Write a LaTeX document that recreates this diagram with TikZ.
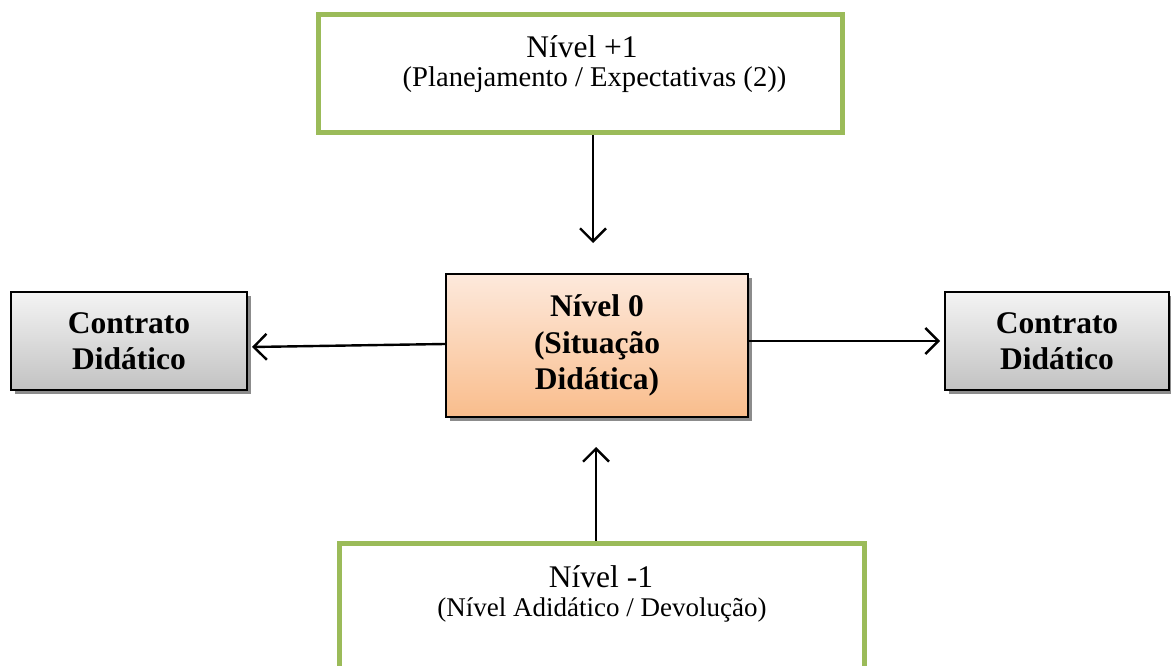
\documentclass[tikz,border=0pt]{standalone}
\usepackage{fontspec}
\setmainfont{Liberation Serif}
\usetikzlibrary{arrows.meta,shadows}
\definecolor{leafgreen}{HTML}{9BBB59}
\definecolor{peachtop}{HTML}{FDE9DC}
\definecolor{peachbot}{HTML}{F9BD8C}
\definecolor{greytop}{HTML}{F4F4F4}
\definecolor{greybot}{HTML}{C2C2C2}
\tikzset{
  levelbox/.style={draw=leafgreen, line width=5pt, fill=white, rectangle, inner sep=0pt},
  shadowbox/.style={draw=black, line width=2.2pt, rectangle, inner sep=0pt, align=center,
    font=\fontsize{31.5}{36.5}\selectfont\bfseries,
    drop shadow={shadow xshift=3.5pt, shadow yshift=-3.5pt, fill=black!45, opacity=1}},
  centrebox/.style={shadowbox, top color=peachtop, bottom color=peachbot},
  contractbox/.style={shadowbox, top color=greytop, bottom color=greybot},
  titletext/.style={font=\fontsize{31.5}{36}\selectfont, inner sep=0pt},
  subtext/.style={font=\fontsize{27}{31}\selectfont, inner sep=0pt},
  flow/.style={line width=2.4pt, -{Straight Barb[length=13pt,width=26pt,line width=2.4pt]}}
}
\begin{document}
\begin{tikzpicture}[x=1pt,y=-1pt]
  \clip (0,0) rectangle (1171,666);
  \fill[white] (0,0) rectangle (1171,666);

  % upper and lower level boxes
  \node[levelbox, minimum width=524pt, minimum height=118pt] (upper) at (580,74) {};
  \node[titletext] (upperTitle) at (582,47) {Nível +1};
  \node[subtext, font=\fontsize{28.6}{32}\selectfont] (upperSub) at (594.5,80)
    {(Planejamento / Expectativas (2))};

  \node[levelbox, minimum width=525pt, minimum height=200pt] (lower) at (601.5,643) {};
  \node[titletext] (lowerTitle) at (601,577) {Nível -1};
  \node[subtext] (lowerSub) at (602,610) {(Nível Adidático / Devolução)};

  % central situation and the two contract boxes
  \node[centrebox, minimum width=302pt, minimum height=143pt] (centre) at (597,345.5)
    {Nível 0\\(Situação\\Didática)};
  \node[contractbox, minimum width=236pt, minimum height=98pt] (leftC) at (129,341)
    {Contrato\\Didático};
  \node[contractbox, minimum width=224pt, minimum height=98pt] (rightC) at (1057,341)
    {Contrato\\Didático};

  % arrow tips stop short of their targets
  \coordinate (downTip) at (593,243);
  \coordinate (upTip) at (596,447);
  \coordinate (leftTip) at (252,347);
  \coordinate (rightTip) at (940,341);

  \draw[flow] (upper.south -| downTip) -- (downTip);
  \draw[flow] (lower.north -| upTip) -- (upTip);
  \draw[flow] (centre.west |- 0,344) -- (leftTip);
  \draw[flow] (centre.east |- rightTip) -- (rightTip);
\end{tikzpicture}
\end{document}
